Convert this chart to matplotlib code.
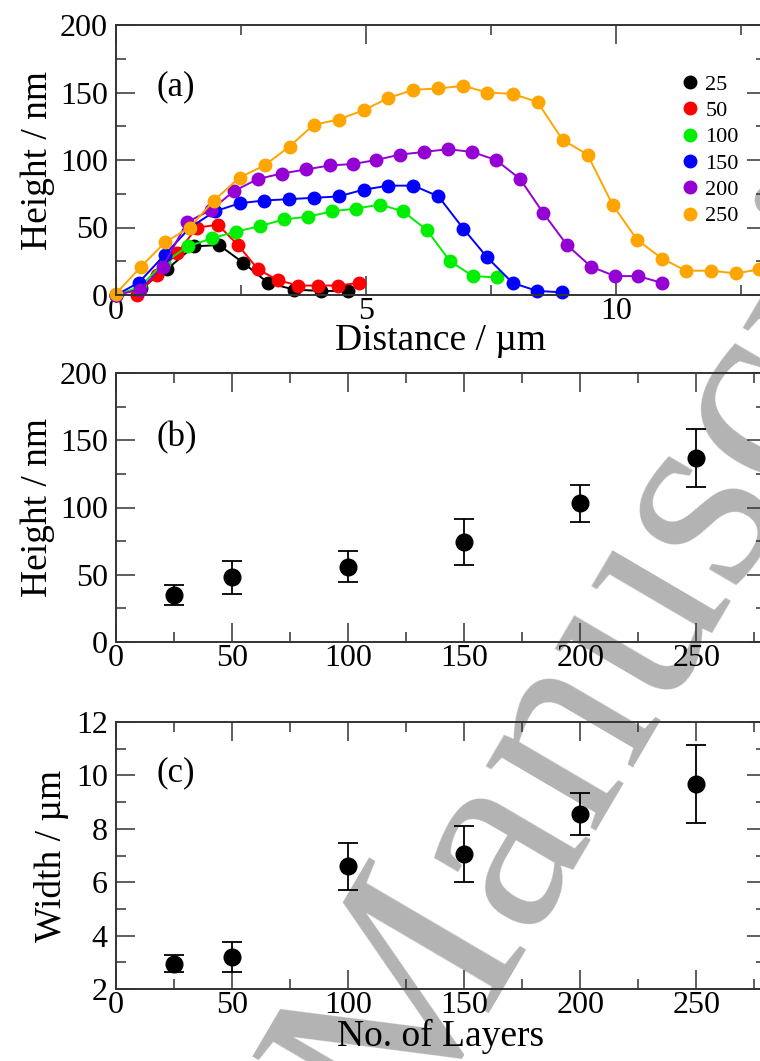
import matplotlib
matplotlib.use('Agg')
import matplotlib.pyplot as plt
from matplotlib.ticker import MultipleLocator

plt.rcParams['font.family'] = ['Liberation Serif', 'DejaVu Serif']

# (a) height profiles, one per number of layers
labels = ['25', '50', '100', '150', '200', '250']
colors = ['#000000', '#ff0000', '#00ee00', '#0000ff', '#9400d3', '#ffa500']

dist_25 = [0, 0.5, 1.02, 1.55, 2.06, 2.54, 3.04, 3.56, 4.1, 4.64]
h_25 = [0, 5, 19, 36, 37, 24, 9, 4, 3, 3]

dist_50 = [0, 0.42, 0.82, 1.22, 1.62, 2.04, 2.44, 2.84, 3.24, 3.64, 4.04, 4.44, 4.86]
h_50 = [0, 0, 15, 31, 50, 52, 37, 19, 11, 7, 7, 7, 9]

dist_100 = [0, 0.48, 0.96, 1.44, 1.92, 2.4, 2.88, 3.36, 3.84, 4.32, 4.8, 5.28,
            5.74, 6.22, 6.68, 7.14, 7.62]
h_100 = [0, 6, 24, 36, 42, 47, 51, 56, 58, 62, 64, 67, 62, 48, 25, 14, 13]

dist_150 = [0, 0.45, 0.98, 1.48, 1.98, 2.48, 2.96, 3.46, 3.96, 4.45, 4.95, 5.45,
            5.95, 6.45, 6.95, 7.42, 7.93, 8.42, 8.92]
h_150 = [0, 9, 30, 50, 62, 68, 70, 71, 72, 73, 78, 81, 81, 73, 49, 28, 9, 3, 2]

dist_200 = [0, 0.48, 0.94, 1.42, 1.9, 2.36, 2.84, 3.32, 3.8, 4.28, 4.74, 5.2,
            5.68, 6.16, 6.64, 7.12, 7.6, 8.08, 8.54, 9.02, 9.5, 9.98, 10.44, 10.92]
h_200 = [0, 4, 21, 54, 63, 77, 86, 90, 93, 96, 97, 100, 104, 106, 108, 106, 100,
         86, 61, 37, 21, 14, 14, 9]

dist_250 = [0, 0.5, 0.98, 1.47, 1.96, 2.47, 2.97, 3.47, 3.95, 4.45, 4.96, 5.45,
            5.95, 6.45, 6.95, 7.42, 7.93, 8.43, 8.93, 9.43, 9.93, 10.42, 10.92,
            11.4, 11.9, 12.4, 12.87]
h_250 = [1, 21, 39, 50, 70, 87, 96, 110, 126, 130, 137, 146, 152, 153, 155, 150,
         149, 143, 115, 104, 67, 41, 27, 18, 18, 16, 19]

profiles = [(dist_25, h_25), (dist_50, h_50), (dist_100, h_100),
            (dist_150, h_150), (dist_200, h_200), (dist_250, h_250)]

# (b), (c) mean height and width vs number of layers
layers = [25, 50, 100, 150, 200, 250]
height = [35, 48, 56, 74.5, 103, 137]
height_err = [7.5, 12.5, 11.5, 17, 14, 21.5]
width = [2.94, 3.2, 6.6, 7.06, 8.55, 9.68]
width_err = [0.32, 0.56, 0.88, 1.06, 0.8, 1.47]


def style_axes(ax, xmaj, xmin, ymaj, ymin):
    ax.set_facecolor('none')
    ax.xaxis.set_major_locator(MultipleLocator(xmaj))
    ax.xaxis.set_minor_locator(MultipleLocator(xmin))
    ax.yaxis.set_major_locator(MultipleLocator(ymaj))
    ax.yaxis.set_minor_locator(MultipleLocator(ymin))
    ax.tick_params(which='both', direction='in', top=True, right=True, width=1.1,
                   color='#333333')
    ax.tick_params(which='major', length=13.5, labelsize=23)
    ax.tick_params(which='minor', length=7.5)
    ax.tick_params(axis='x', pad=1.5)
    ax.tick_params(axis='y', pad=6)
    for s in ax.spines.values():
        s.set_linewidth(1.4)
        s.set_color('#333333')


fig = plt.figure(figsize=(7.6, 10.61), dpi=100)

# watermark behind everything
fig.text(402 / 760, 1 - 1148 / 1061, 'Manuscript', rotation=59.6, rotation_mode='anchor',
         ha='left', va='baseline', fontsize=200, color='#b3b3b3', zorder=-1)

L, W = 116 / 760, 650 / 760
ax1 = fig.add_axes([L, 1 - 295 / 1061, W, 270 / 1061])
ax2 = fig.add_axes([L, 1 - 642 / 1061, W, 269 / 1061])
ax3 = fig.add_axes([L, 1 - 989 / 1061, W, 267 / 1061])

for (x, y), c, lab in zip(profiles, colors, labels):
    ax1.plot(x, y, '-o', color=c, lw=1.4, ms=9, mec=c, label=lab, clip_on=False)
ax1.set_xlim(0, 13)
ax1.set_ylim(0, 200)
style_axes(ax1, 5, 2.5, 50, 25)
ax1.set_xlabel('Distance / µm', fontsize=27)
ax1.set_ylabel('Height / nm', fontsize=27)
ax1.xaxis.set_label_coords(0.5, -0.105)
ax1.yaxis.set_label_coords(-0.094, 0.5)
ax1.text(0.062, 0.77, '(a)', transform=ax1.transAxes, fontsize=25, va='center')
leg = ax1.legend(loc='upper left', bbox_to_anchor=(0.875, 0.818), frameon=False,
                 fontsize=16, handlelength=0.5, handletextpad=0.42, labelspacing=0.26,
                 borderpad=0, borderaxespad=0)
for h in leg.legend_handles:
    h.set_linestyle('none')

ax2.errorbar(layers, height, yerr=height_err, fmt='o', color='black', ms=12,
             elinewidth=1.3, capsize=7, capthick=1.3)
ax2.set_xlim(0, 280)
ax2.set_ylim(0, 200)
style_axes(ax2, 50, 25, 50, 25)
ax2.set_ylabel('Height / nm', fontsize=27)
ax2.yaxis.set_label_coords(-0.094, 0.5)
ax2.text(0.062, 0.758, '(b)', transform=ax2.transAxes, fontsize=25, va='center')

ax3.errorbar(layers, width, yerr=width_err, fmt='o', color='black', ms=12,
             elinewidth=1.3, capsize=7, capthick=1.3)
ax3.set_xlim(0, 280)
ax3.set_ylim(2, 12)
style_axes(ax3, 50, 25, 2, 1)
ax3.set_xlabel('No. of Layers', fontsize=27)
ax3.set_ylabel('Width / µm', fontsize=27)
ax3.xaxis.set_label_coords(0.5, -0.11)
ax3.yaxis.set_label_coords(-0.072, 0.5)
ax3.text(0.062, 0.81, '(c)', transform=ax3.transAxes, fontsize=25, va='center')

fig.savefig('out.png', dpi=100)
